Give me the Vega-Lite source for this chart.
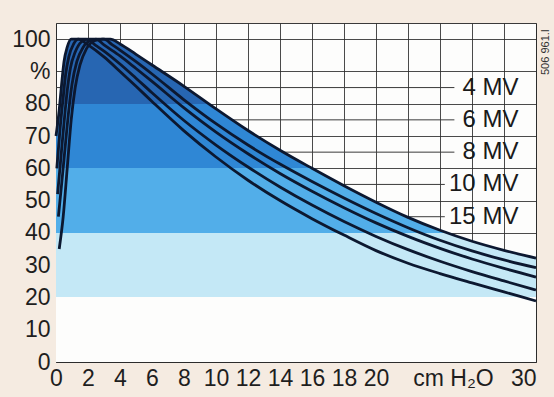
{
  "$schema": "https://vega.github.io/schema/vega-lite/v6.json",
  "width": 480,
  "height": 339,
  "autosize": {"type": "none"},
  "padding": {"left": 56, "top": 23, "right": 18, "bottom": 35},
  "background": "#f5ebe1",
  "config": {
    "view": {"fill": "#fdfdfc", "stroke": "#3a3a3a", "strokeWidth": 1},
    "font": "Liberation Sans",
    "axisX": {
      "tickCount": 15,
      "grid": true, "gridColor": "#2a2a2a", "gridOpacity": 0.85, "gridWidth": 1,
      "domain": false, "ticks": false,
      "labelFontSize": 23, "labelColor": "#1e1e1e", "labelPadding": 5,
      "labelOverlap": false, "labelFlush": false, "labelBound": false,
      "zindex": 1
    },
    "axisY": {
      "tickCount": 11,
      "grid": true, "gridColor": "#2a2a2a", "gridOpacity": 0.85, "gridWidth": 1,
      "domain": false, "ticks": false,
      "labelFontSize": 23, "labelColor": "#1e1e1e", "labelPadding": 6,
      "labelOverlap": false,
      "zindex": 1
    }
  },
  "datasets": {
    "curves": [
      {"energy": "4 MV", "depth": 0, "dose": 70},
      {"energy": "4 MV", "depth": 0.2, "dose": 78},
      {"energy": "4 MV", "depth": 0.35, "dose": 86},
      {"energy": "4 MV", "depth": 0.5, "dose": 93},
      {"energy": "4 MV", "depth": 0.7, "dose": 97.5},
      {"energy": "4 MV", "depth": 0.95, "dose": 100},
      {"energy": "4 MV", "depth": 1.4, "dose": 100},
      {"energy": "4 MV", "depth": 2, "dose": 98.2},
      {"energy": "4 MV", "depth": 3, "dose": 94.5},
      {"energy": "4 MV", "depth": 4, "dose": 90},
      {"energy": "4 MV", "depth": 5, "dose": 85.4},
      {"energy": "4 MV", "depth": 6, "dose": 80.7},
      {"energy": "4 MV", "depth": 8, "dose": 71.6},
      {"energy": "4 MV", "depth": 10, "dose": 63.5},
      {"energy": "4 MV", "depth": 12, "dose": 56.3},
      {"energy": "4 MV", "depth": 14, "dose": 50},
      {"energy": "4 MV", "depth": 16, "dose": 44.4},
      {"energy": "4 MV", "depth": 18, "dose": 39.3},
      {"energy": "4 MV", "depth": 20, "dose": 34.5},
      {"energy": "4 MV", "depth": 22, "dose": 30.6},
      {"energy": "4 MV", "depth": 24, "dose": 27.4},
      {"energy": "4 MV", "depth": 26, "dose": 24.5},
      {"energy": "4 MV", "depth": 28, "dose": 21.7},
      {"energy": "4 MV", "depth": 30, "dose": 18.9},

      {"energy": "6 MV", "depth": 0.05, "dose": 60},
      {"energy": "6 MV", "depth": 0.25, "dose": 72},
      {"energy": "6 MV", "depth": 0.45, "dose": 82},
      {"energy": "6 MV", "depth": 0.6, "dose": 89},
      {"energy": "6 MV", "depth": 0.8, "dose": 94.5},
      {"energy": "6 MV", "depth": 1.1, "dose": 98.5},
      {"energy": "6 MV", "depth": 1.4, "dose": 100},
      {"energy": "6 MV", "depth": 1.9, "dose": 100},
      {"energy": "6 MV", "depth": 2.5, "dose": 98},
      {"energy": "6 MV", "depth": 3, "dose": 96.3},
      {"energy": "6 MV", "depth": 4, "dose": 92.3},
      {"energy": "6 MV", "depth": 5, "dose": 87.9},
      {"energy": "6 MV", "depth": 6, "dose": 83.4},
      {"energy": "6 MV", "depth": 8, "dose": 74.8},
      {"energy": "6 MV", "depth": 10, "dose": 67.2},
      {"energy": "6 MV", "depth": 12, "dose": 60.4},
      {"energy": "6 MV", "depth": 14, "dose": 54.2},
      {"energy": "6 MV", "depth": 16, "dose": 48.6},
      {"energy": "6 MV", "depth": 18, "dose": 43.5},
      {"energy": "6 MV", "depth": 20, "dose": 38.9},
      {"energy": "6 MV", "depth": 22, "dose": 34.8},
      {"energy": "6 MV", "depth": 24, "dose": 31.2},
      {"energy": "6 MV", "depth": 26, "dose": 28},
      {"energy": "6 MV", "depth": 28, "dose": 25.1},
      {"energy": "6 MV", "depth": 30, "dose": 22.3},

      {"energy": "8 MV", "depth": 0.1, "dose": 52},
      {"energy": "8 MV", "depth": 0.3, "dose": 63},
      {"energy": "8 MV", "depth": 0.5, "dose": 74},
      {"energy": "8 MV", "depth": 0.7, "dose": 84},
      {"energy": "8 MV", "depth": 0.9, "dose": 91},
      {"energy": "8 MV", "depth": 1.2, "dose": 96},
      {"energy": "8 MV", "depth": 1.6, "dose": 99.2},
      {"energy": "8 MV", "depth": 2, "dose": 100},
      {"energy": "8 MV", "depth": 2.5, "dose": 100},
      {"energy": "8 MV", "depth": 3, "dose": 98.2},
      {"energy": "8 MV", "depth": 4, "dose": 94.8},
      {"energy": "8 MV", "depth": 5, "dose": 90.9},
      {"energy": "8 MV", "depth": 6, "dose": 86.9},
      {"energy": "8 MV", "depth": 8, "dose": 78.7},
      {"energy": "8 MV", "depth": 10, "dose": 71.2},
      {"energy": "8 MV", "depth": 12, "dose": 64.5},
      {"energy": "8 MV", "depth": 14, "dose": 58.4},
      {"energy": "8 MV", "depth": 16, "dose": 52.9},
      {"energy": "8 MV", "depth": 18, "dose": 47.8},
      {"energy": "8 MV", "depth": 20, "dose": 43.1},
      {"energy": "8 MV", "depth": 22, "dose": 38.9},
      {"energy": "8 MV", "depth": 24, "dose": 35.2},
      {"energy": "8 MV", "depth": 26, "dose": 31.9},
      {"energy": "8 MV", "depth": 28, "dose": 29},
      {"energy": "8 MV", "depth": 30, "dose": 26.3},

      {"energy": "10 MV", "depth": 0.15, "dose": 45},
      {"energy": "10 MV", "depth": 0.35, "dose": 55},
      {"energy": "10 MV", "depth": 0.6, "dose": 68},
      {"energy": "10 MV", "depth": 0.8, "dose": 78},
      {"energy": "10 MV", "depth": 1, "dose": 86},
      {"energy": "10 MV", "depth": 1.3, "dose": 93},
      {"energy": "10 MV", "depth": 1.7, "dose": 97.5},
      {"energy": "10 MV", "depth": 2.2, "dose": 99.7},
      {"energy": "10 MV", "depth": 2.6, "dose": 100},
      {"energy": "10 MV", "depth": 3, "dose": 100},
      {"energy": "10 MV", "depth": 3.5, "dose": 98.3},
      {"energy": "10 MV", "depth": 4, "dose": 96.6},
      {"energy": "10 MV", "depth": 5, "dose": 93},
      {"energy": "10 MV", "depth": 6, "dose": 89.2},
      {"energy": "10 MV", "depth": 8, "dose": 81.2},
      {"energy": "10 MV", "depth": 10, "dose": 73.8},
      {"energy": "10 MV", "depth": 12, "dose": 67.2},
      {"energy": "10 MV", "depth": 14, "dose": 61.3},
      {"energy": "10 MV", "depth": 16, "dose": 55.9},
      {"energy": "10 MV", "depth": 18, "dose": 50.8},
      {"energy": "10 MV", "depth": 20, "dose": 46},
      {"energy": "10 MV", "depth": 22, "dose": 41.6},
      {"energy": "10 MV", "depth": 24, "dose": 37.7},
      {"energy": "10 MV", "depth": 26, "dose": 34.4},
      {"energy": "10 MV", "depth": 28, "dose": 31.6},
      {"energy": "10 MV", "depth": 30, "dose": 29.2},

      {"energy": "15 MV", "depth": 0.2, "dose": 35},
      {"energy": "15 MV", "depth": 0.45, "dose": 45},
      {"energy": "15 MV", "depth": 0.7, "dose": 60},
      {"energy": "15 MV", "depth": 0.95, "dose": 75},
      {"energy": "15 MV", "depth": 1.2, "dose": 85},
      {"energy": "15 MV", "depth": 1.5, "dose": 92},
      {"energy": "15 MV", "depth": 1.9, "dose": 97},
      {"energy": "15 MV", "depth": 2.4, "dose": 99.5},
      {"energy": "15 MV", "depth": 2.9, "dose": 100},
      {"energy": "15 MV", "depth": 3.4, "dose": 100},
      {"energy": "15 MV", "depth": 4, "dose": 98.5},
      {"energy": "15 MV", "depth": 5, "dose": 95.3},
      {"energy": "15 MV", "depth": 6, "dose": 92},
      {"energy": "15 MV", "depth": 8, "dose": 85.4},
      {"energy": "15 MV", "depth": 10, "dose": 78.4},
      {"energy": "15 MV", "depth": 12, "dose": 71.7},
      {"energy": "15 MV", "depth": 14, "dose": 65.6},
      {"energy": "15 MV", "depth": 16, "dose": 60},
      {"energy": "15 MV", "depth": 18, "dose": 54.6},
      {"energy": "15 MV", "depth": 20, "dose": 49.5},
      {"energy": "15 MV", "depth": 22, "dose": 44.8},
      {"energy": "15 MV", "depth": 24, "dose": 40.8},
      {"energy": "15 MV", "depth": 26, "dose": 37.4},
      {"energy": "15 MV", "depth": 28, "dose": 34.6},
      {"energy": "15 MV", "depth": 30, "dose": 32.2}
    ],
    "envelope": [
      {"depth": 0, "dose": 70},
      {"depth": 0.2, "dose": 78},
      {"depth": 0.35, "dose": 86},
      {"depth": 0.5, "dose": 93},
      {"depth": 0.7, "dose": 97.5},
      {"depth": 0.95, "dose": 100},
      {"depth": 3.4, "dose": 100},
      {"depth": 4, "dose": 98.5},
      {"depth": 5, "dose": 95.3},
      {"depth": 6, "dose": 92},
      {"depth": 8, "dose": 85.4},
      {"depth": 10, "dose": 78.4},
      {"depth": 12, "dose": 71.7},
      {"depth": 14, "dose": 65.6},
      {"depth": 16, "dose": 60},
      {"depth": 18, "dose": 54.6},
      {"depth": 20, "dose": 49.5},
      {"depth": 22, "dose": 44.8},
      {"depth": 24, "dose": 40.8},
      {"depth": 26, "dose": 37.4},
      {"depth": 28, "dose": 34.6},
      {"depth": 30, "dose": 32.2}
    ],
    "labels": [
      {"energy": "4 MV", "dose": 85, "lineEnd": 24.9},
      {"energy": "6 MV", "dose": 75, "lineEnd": 24.9},
      {"energy": "8 MV", "dose": 65, "lineEnd": 24.9},
      {"energy": "10 MV", "dose": 55, "lineEnd": 24.3},
      {"energy": "15 MV", "dose": 45, "lineEnd": 24.3}
    ],
    "code": [
      {"text": "506 961.I", "depth": 30.6, "dose": 96}
    ]
  },
  "layer": [
    {
      "data": {"name": "labels"},
      "mark": {"type": "rule", "color": "#3a3a3a", "strokeWidth": 1},
      "encoding": {
        "x": {
          "field": "lineEnd", "type": "quantitative",
          "scale": {"domain": [0, 30], "nice": false},
          "axis": {
            "title": null,
            "labelExpr": "datum.value == 24 ? 'cm H₂O' : ((datum.value > 20 && datum.value < 30) ? '' : datum.label)",
            "labelAlign": {"condition": {"test": "datum.value == 30", "value": "right"}, "value": "center"},
            "labelOffset": {"condition": {"test": "datum.value == 24", "value": 13}, "value": 0}
          }
        },
        "x2": {"datum": 0},
        "y": {
          "field": "dose", "type": "quantitative",
          "scale": {"domain": [0, 105], "nice": false},
          "axis": {
            "title": null,
            "labelExpr": "datum.value > 100 ? '' : (datum.value == 90 ? '%' : datum.label)"
          }
        }
      }
    },
    {
      "data": {"name": "envelope"},
      "mark": {
        "type": "area",
        "interpolate": "monotone",
        "fill": {
          "gradient": "linear",
          "x1": 0, "y1": 0, "x2": 0, "y2": 1,
          "stops": [
            {"offset": 0, "color": "#2766b2"},
            {"offset": 0.2, "color": "#2766b2"},
            {"offset": 0.2, "color": "#2f87d5"},
            {"offset": 0.4, "color": "#2f87d5"},
            {"offset": 0.4, "color": "#52aee9"},
            {"offset": 0.6, "color": "#52aee9"},
            {"offset": 0.6, "color": "#c4e8f6"},
            {"offset": 0.8, "color": "#c4e8f6"},
            {"offset": 0.8, "color": "#fdfdfc"},
            {"offset": 1, "color": "#fdfdfc"}
          ]
        }
      },
      "encoding": {
        "x": {"field": "depth", "type": "quantitative", "scale": {"domain": [0, 30], "nice": false}, "title": null},
        "y": {"field": "dose", "type": "quantitative", "scale": {"domain": [0, 105], "nice": false}, "title": null}
      }
    },
    {
      "data": {"name": "curves"},
      "mark": {"type": "line", "interpolate": "monotone", "color": "#0c1830", "strokeWidth": 2.8},
      "encoding": {
        "x": {"field": "depth", "type": "quantitative", "scale": {"domain": [0, 30], "nice": false}, "title": null},
        "y": {"field": "dose", "type": "quantitative", "scale": {"domain": [0, 105], "nice": false}, "title": null},
        "detail": {"field": "energy"}
      }
    },
    {
      "data": {"name": "labels"},
      "mark": {"type": "text", "align": "right", "baseline": "middle", "fontSize": 24, "color": "#1a1a1a"},
      "encoding": {
        "x": {"datum": 28.9, "type": "quantitative", "scale": {"domain": [0, 30], "nice": false}, "title": null},
        "y": {"field": "dose", "type": "quantitative", "scale": {"domain": [0, 105], "nice": false}, "title": null},
        "text": {"field": "energy"}
      }
    },
    {
      "data": {"name": "code"},
      "mark": {"type": "text", "align": "center", "baseline": "middle", "angle": 270, "fontSize": 11, "color": "#333333"},
      "encoding": {
        "x": {"field": "depth", "type": "quantitative", "scale": {"domain": [0, 30], "nice": false}, "title": null},
        "y": {"field": "dose", "type": "quantitative", "scale": {"domain": [0, 105], "nice": false}, "title": null},
        "text": {"field": "text"}
      }
    }
  ]
}
